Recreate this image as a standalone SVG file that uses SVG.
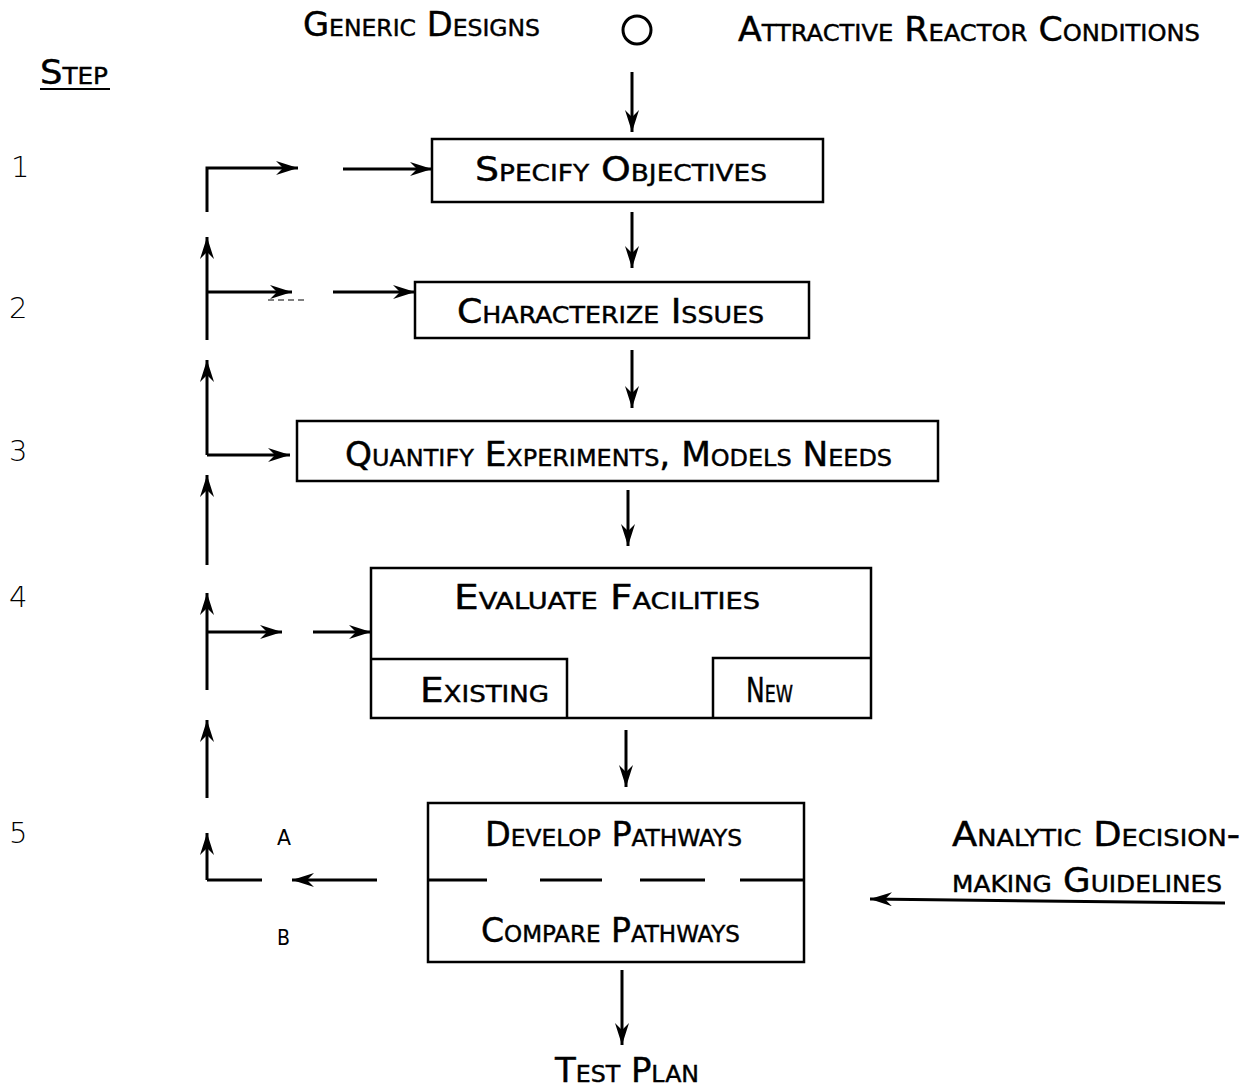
<svg xmlns="http://www.w3.org/2000/svg" width="1248" height="1089" viewBox="0 0 1248 1089">
<style>
text{font-family:"DejaVu Sans Condensed","Liberation Sans Narrow","Liberation Sans",sans-serif;fill:#000}
.sc{font-variant:small-caps;font-size:33px;stroke:#000;stroke-width:0.4}
.num{font-family:"DejaVu Sans","Liberation Sans",sans-serif;font-size:29px;font-weight:300}
.box{fill:none;stroke:#000;stroke-width:2.5}
.c{fill:none;stroke:#000;stroke-width:3}
</style>
<defs>
<marker id="ah" viewBox="0 0 22 14" refX="22" refY="7" markerWidth="22" markerHeight="14" orient="auto" markerUnits="userSpaceOnUse">
<path d="M0,0 L22,7 L0,14 L7,7 z" fill="#000"/>
</marker>
</defs>
<rect width="1248" height="1089" fill="#fff"/>

<g id="inputs">
<text class="sc" x="303" y="36" textLength="237" lengthAdjust="spacingAndGlyphs">Generic Designs</text>
<ellipse cx="637" cy="30" rx="14" ry="14" fill="none" stroke="#000" stroke-width="3"/>
<text class="sc" x="738" y="41" textLength="462" lengthAdjust="spacingAndGlyphs">Attractive Reactor Conditions</text>
</g>

<g id="steps">
<text class="sc" x="40" y="84" textLength="68" lengthAdjust="spacingAndGlyphs">Step</text>
<line x1="40" y1="89" x2="110" y2="89" stroke="#000" stroke-width="2"/>
<text class="num" x="11" y="177">1</text>
<text class="num" x="9" y="318">2</text>
<text class="num" x="9" y="461">3</text>
<text class="num" x="9" y="607">4</text>
<text class="num" x="9" y="843">5</text>
</g>

<g id="n1">
<rect class="box" x="432" y="139" width="391" height="63"/>
<text class="sc" x="475" y="181" textLength="292" lengthAdjust="spacingAndGlyphs">Specify Objectives</text>
</g>
<g id="n2">
<rect class="box" x="415" y="282" width="394" height="56"/>
<text class="sc" x="457" y="323" textLength="307" lengthAdjust="spacingAndGlyphs">Characterize Issues</text>
</g>
<g id="n3">
<rect class="box" x="297" y="421" width="641" height="60"/>
<text class="sc" x="345" y="466" textLength="547" lengthAdjust="spacingAndGlyphs">Quantify Experiments, Models Needs</text>
</g>
<g id="n4">
<path class="box" d="M371,568 H871 V718 H371 Z M371,659 H567 V718 M713,718 V658 H871"/>
<text class="sc" x="454" y="609" textLength="306" lengthAdjust="spacingAndGlyphs">Evaluate Facilities</text>
<text class="sc" x="420" y="702" textLength="129" lengthAdjust="spacingAndGlyphs">Existing</text>
<text class="sc" x="746" y="702" textLength="47" lengthAdjust="spacingAndGlyphs">New</text>
</g>
<g id="n5">
<rect class="box" x="428" y="803" width="376" height="159"/>
<path d="M428,880 H487 M540,880 H602 M640,880 H705 M740,880 H804" stroke="#000" stroke-width="3" fill="none"/>
<text class="sc" x="485" y="846" textLength="257" lengthAdjust="spacingAndGlyphs">Develop Pathways</text>
<text class="sc" x="481" y="942" textLength="259" lengthAdjust="spacingAndGlyphs">Compare Pathways</text>
</g>
<g id="output">
<text class="sc" x="555" y="1082" textLength="144" lengthAdjust="spacingAndGlyphs">Test Plan</text>
</g>
<g id="guidelines">
<text class="sc" x="952" y="846" textLength="288" lengthAdjust="spacingAndGlyphs">Analytic Decision-</text>
<text class="sc" x="952" y="892" textLength="270" lengthAdjust="spacingAndGlyphs">making Guidelines</text>
</g>
<g id="labels">
<text x="277" y="845" font-size="22" textLength="14" lengthAdjust="spacingAndGlyphs">A</text>
<text x="277" y="945" font-size="22" textLength="13" lengthAdjust="spacingAndGlyphs">B</text>
</g>

<g id="connectors">
<path class="c" d="M632,72 V132" marker-end="url(#ah)"/>
<path class="c" d="M632,212 V268" marker-end="url(#ah)"/>
<path class="c" d="M632,350 V408" marker-end="url(#ah)"/>
<path class="c" d="M628,490 V546" marker-end="url(#ah)"/>
<path class="c" d="M626,730 V787" marker-end="url(#ah)"/>
<path class="c" d="M622,970 V1045" marker-end="url(#ah)"/>

<path class="c" d="M207,212 V168 H298" marker-end="url(#ah)"/>
<path class="c" d="M343,169 H432" marker-end="url(#ah)"/>

<path class="c" d="M207,340 V237" marker-end="url(#ah)"/>
<path class="c" d="M207,292 H292" marker-end="url(#ah)"/>
<path d="M268,300 H305" stroke="#000" stroke-width="1" stroke-dasharray="6,4" fill="none"/>
<path class="c" d="M333,292 H415" marker-end="url(#ah)"/>

<path class="c" d="M207,455 V360" marker-end="url(#ah)"/>
<path class="c" d="M207,455 H290" marker-end="url(#ah)"/>

<path class="c" d="M207,565 V475" marker-end="url(#ah)"/>

<path class="c" d="M207,690 V593" marker-end="url(#ah)"/>
<path class="c" d="M207,632 H282" marker-end="url(#ah)"/>
<path class="c" d="M313,632 H371" marker-end="url(#ah)"/>

<path class="c" d="M207,798 V720" marker-end="url(#ah)"/>

<path class="c" d="M207,880 V833" marker-end="url(#ah)"/>
<path class="c" d="M207,880 H262"/>
<path class="c" d="M377,880 H292" marker-end="url(#ah)"/>

<path class="c" d="M1225,903 L870,899" marker-end="url(#ah)"/>
</g>
</svg>
